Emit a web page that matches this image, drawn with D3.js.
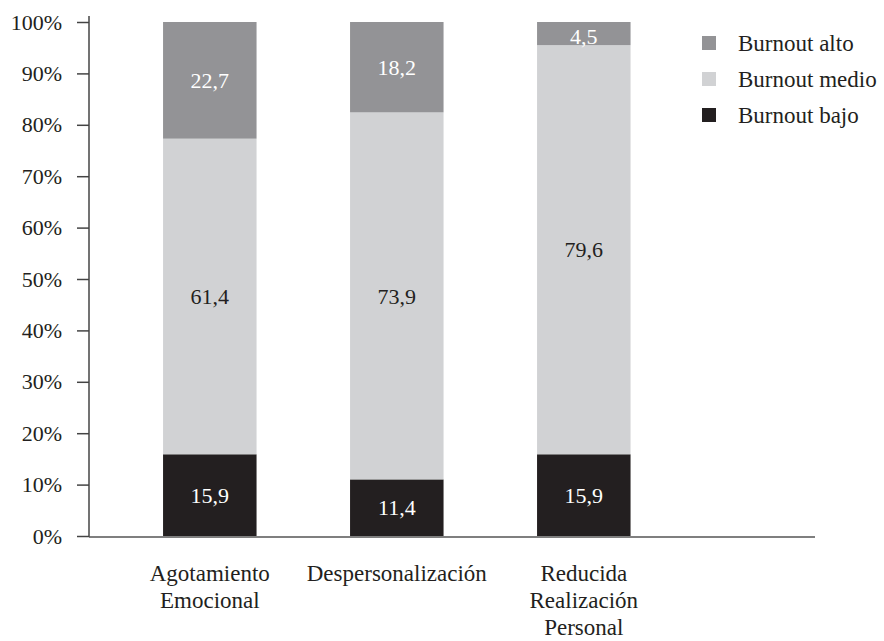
<!DOCTYPE html>
<html><head><meta charset="utf-8">
<script src="https://cdn.jsdelivr.net/npm/d3@7"></script>
<style>body{margin:0;background:#fff}svg{display:block}text{font-family:"Liberation Serif","DejaVu Serif",serif}</style>
</head><body>
<script>
const categories = [["Agotamiento","Emocional"],["Despersonalización"],["Reducida","Realización","Personal"]];
const catKeys = ["Agotamiento Emocional","Despersonalización","Reducida Realización Personal"];
const bajo  = [15.9, 11.4, 15.9];
const medio = [61.4, 73.9, 79.6];
const alto  = [22.7, 18.2, 4.5];
const seriesNames = ["Burnout bajo","Burnout medio","Burnout alto"];
const seriesColors = ["#231f20","#d1d2d4","#939396"];
const labelColors = ["#ffffff","#231f20","#ffffff"];
const yTicks = [0,0.1,0.2,0.3,0.4,0.5,0.6,0.7,0.8,0.9,1];

const W=884,H=641;
const svg=d3.select("body").append("svg").attr("width",W).attr("height",H);
const rows = catKeys.map((k,i)=>({cat:k, "Burnout bajo":bajo[i], "Burnout medio":medio[i], "Burnout alto":alto[i]}));
const stack = d3.stack().keys(seriesNames).offset(d3.stackOffsetExpand)(rows);

const x = d3.scaleBand().domain(catKeys).range([89,704.6]).paddingInner(0.5).paddingOuter(0.396);
const y = d3.scaleLinear().domain([0,1]).range([536,22]);

// bars
stack.forEach((s,si)=>{
  svg.append("g").selectAll("rect").data(s).join("rect")
    .attr("x",d=>x(d.data.cat)).attr("width",x.bandwidth())
    .attr("y",d=>y(d[1])).attr("height",d=>y(d[0])-y(d[1]))
    .attr("fill",seriesColors[si]);
  svg.append("g").selectAll("text").data(s).join("text")
    .attr("x",d=>x(d.data.cat)+x.bandwidth()/2)
    .attr("y",d=>{const h=y(d[0])-y(d[1]); return h<30 ? y(d[1])+h/2+3 : (y(d[0])+y(d[1]))/2;})
    .attr("dy","0.35em")
    .attr("text-anchor","middle").attr("font-size",22).attr("fill",labelColors[si])
    .text(d=>d.data[seriesNames[si]].toFixed(1).replace(".",","));
});

// y axis
const ya = svg.append("g").attr("transform","translate(89,0)")
  .call(d3.axisLeft(y).tickValues(yTicks).tickFormat(d=>Math.round(d*100)+"%").tickSize(12).tickSizeOuter(0));
ya.select(".domain").attr("stroke","#444").attr("stroke-width",1.5).attr("d","M0,16V537");
ya.selectAll(".tick line").attr("stroke","#444").attr("stroke-width",1.5);
ya.selectAll(".tick text").attr("font-size",22).attr("fill","#231f20").attr("x",-27)
  .attr("font-family","'Liberation Serif',serif");

// x axis line
svg.append("line").attr("x1",89).attr("x2",815).attr("y1",537).attr("y2",537)
  .attr("stroke","#555").attr("stroke-width",1.5);

// category labels
categories.forEach((lines,i)=>{
  const t=svg.append("text").attr("text-anchor","middle").attr("font-size",23).attr("fill","#231f20")
    .attr("transform",`translate(${x(catKeys[i])+x.bandwidth()/2},581)`);
  lines.forEach((l,j)=>t.append("tspan").attr("x",0).attr("y",j*27).text(l));
});

// legend
const legendOrder = ["Burnout alto","Burnout medio","Burnout bajo"];
legendOrder.forEach((n,i)=>{
  const si=seriesNames.indexOf(n);
  const g=svg.append("g").attr("transform",`translate(702,${36+i*36})`);
  g.append("rect").attr("width",14).attr("height",14).attr("fill",seriesColors[si]);
  g.append("text").attr("x",36).attr("y",7).attr("dy","0.35em").attr("font-size",23).attr("fill","#231f20").text(n);
});
</script>
</body></html>
